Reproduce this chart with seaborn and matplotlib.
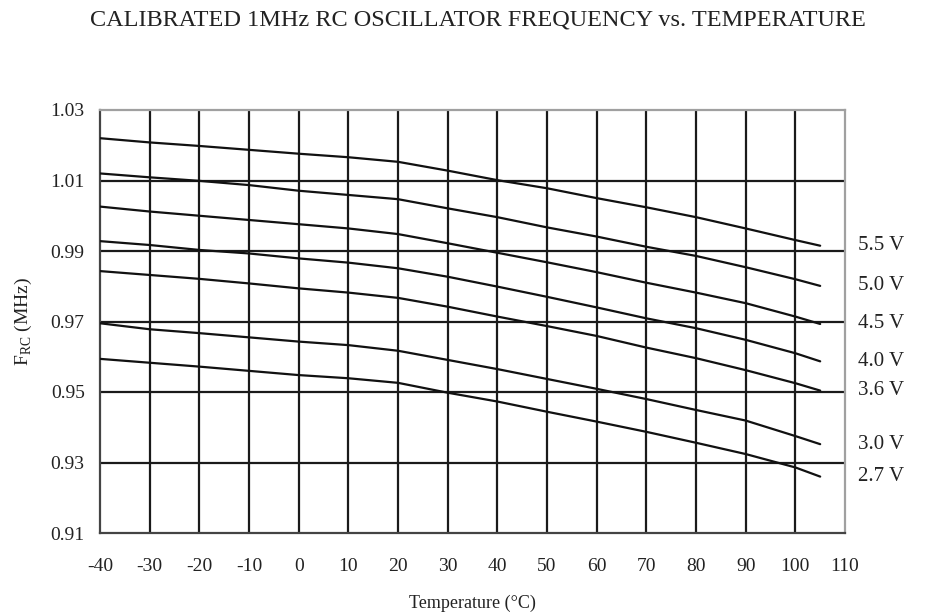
import pandas as pd
import matplotlib
matplotlib.use("Agg")
import matplotlib.pyplot as plt
import matplotlib.transforms as mtransforms
import seaborn as sns

# Data
temps = [-40, -30, -20, -10, 0, 10, 20, 30, 40, 50, 60, 70, 80, 90, 100, 105]
f_55 = [1.0220, 1.0208, 1.0198, 1.0187, 1.0176, 1.0166, 1.0153, 1.0128, 1.0101, 1.0078, 1.0050, 1.0024, 0.9996, 0.9964, 0.9931, 0.9915]
f_50 = [1.0120, 1.0109, 1.0099, 1.0087, 1.0071, 1.0059, 1.0047, 1.0021, 0.9996, 0.9967, 0.9941, 0.9912, 0.9886, 0.9854, 0.9820, 0.9801]
f_45 = [1.0026, 1.0012, 1.0000, 0.9988, 0.9976, 0.9964, 0.9948, 0.9922, 0.9895, 0.9868, 0.9840, 0.9810, 0.9782, 0.9752, 0.9714, 0.9693]
f_40 = [0.9928, 0.9917, 0.9903, 0.9893, 0.9879, 0.9867, 0.9851, 0.9827, 0.9799, 0.9770, 0.9740, 0.9709, 0.9681, 0.9648, 0.9610, 0.9587]
f_36 = [0.9843, 0.9832, 0.9821, 0.9808, 0.9794, 0.9782, 0.9767, 0.9742, 0.9714, 0.9687, 0.9659, 0.9626, 0.9596, 0.9562, 0.9525, 0.9504]
f_30 = [0.9695, 0.9678, 0.9667, 0.9655, 0.9643, 0.9633, 0.9617, 0.9591, 0.9565, 0.9537, 0.9509, 0.9480, 0.9449, 0.9419, 0.9375, 0.9352]
f_27 = [0.9594, 0.9583, 0.9572, 0.9560, 0.9548, 0.9539, 0.9526, 0.9498, 0.9473, 0.9444, 0.9416, 0.9387, 0.9356, 0.9324, 0.9286, 0.9260]
voltages = ["5.5 V", "5.0 V", "4.5 V", "4.0 V", "3.6 V", "3.0 V", "2.7 V"]

x_ticks = list(range(-40, 111, 10))
y_ticks = [0.91, 0.93, 0.95, 0.97, 0.99, 1.01, 1.03]

series = [f_55, f_50, f_45, f_40, f_36, f_30, f_27]
df = pd.concat(
    [pd.DataFrame({"temp": temps, "freq": s, "vcc": v}) for s, v in zip(series, voltages)],
    ignore_index=True,
)

sns.set_style("white")
plt.rcParams["font.family"] = ["Liberation Serif", "DejaVu Serif"]
plt.rcParams["mathtext.fontset"] = "custom"
plt.rcParams["mathtext.rm"] = "Liberation Serif"
plt.rcParams["axes.unicode_minus"] = False

fig = plt.figure(figsize=(9.25, 6.15), dpi=100)
ax = fig.add_axes([100 / 925, 1 - 533 / 615, 745 / 925, 423 / 615])

# grid drawn as plain black lines
for xv in x_ticks[1:-1]:
    ax.axvline(xv, color="#1a1a1a", lw=1.6, zorder=1)
for yv in y_ticks[1:-1]:
    ax.axhline(yv, color="#1a1a1a", lw=1.6, zorder=1)

sns.lineplot(data=df, x="temp", y="freq", hue="vcc", palette=["#111111"] * 7,
             linewidth=1.6, legend=False, ax=ax, zorder=3)

ax.set_xlim(-40, 110)
ax.set_ylim(0.91, 1.03)
ax.set_xticks(x_ticks)
ax.set_yticks(y_ticks)
ax.set_yticklabels([f"{v:.2f}" for v in y_ticks])
ax.tick_params(axis="both", direction="out", length=7, width=1.2, color="#333333",
               labelsize=14, labelcolor="#222222")
ax.tick_params(axis="x", pad=11)
ax.tick_params(axis="y", pad=4)

for side in ["left", "bottom"]:
    ax.spines[side].set_color("#444444")
    ax.spines[side].set_linewidth(1.6)
for side in ["top", "right"]:
    ax.spines[side].set_color("#a0a0a0")
    ax.spines[side].set_linewidth(1.6)

ax.set_xlabel("Temperature (°C)", fontsize=13, color="#222222", labelpad=14)
ax.set_ylabel(r"F$_{\mathrm{RC}}$ (MHz)", fontsize=14, color="#222222", labelpad=12)

# voltage labels just right of the plot, at each curve's end value
trans = mtransforms.blended_transform_factory(ax.transAxes, ax.transData)
for s, v in zip(series, voltages):
    ax.text(1.018, s[-1], v, transform=trans, fontsize=15, color="#222222",
            va="center", ha="left")

fig.text(478 / 925, 1 - 20 / 615, "CALIBRATED 1MHz RC OSCILLATOR FREQUENCY vs. TEMPERATURE",
         ha="center", va="center", fontsize=17.5, color="#222222")

fig.savefig("out.png", dpi=100)
